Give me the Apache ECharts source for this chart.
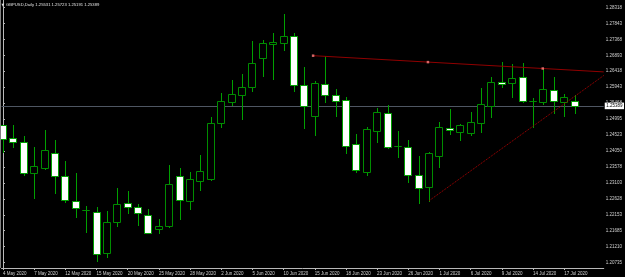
<!DOCTYPE html>
<html><head><meta charset="utf-8">
<script src="https://cdn.jsdelivr.net/npm/echarts@6/dist/echarts.min.js"></script>
<style>html,body{margin:0;padding:0;background:#000;}#c{width:625px;height:277px;}</style>
</head><body><div id="c"></div>
<script>
const dates = ['4 May 2020','5 May 2020','6 May 2020','7 May 2020','8 May 2020','11 May 2020','12 May 2020','13 May 2020','14 May 2020','15 May 2020',
'18 May 2020','19 May 2020','20 May 2020','21 May 2020','22 May 2020','25 May 2020','26 May 2020','27 May 2020','28 May 2020','29 May 2020',
'1 Jun 2020','2 Jun 2020','3 Jun 2020','4 Jun 2020','5 Jun 2020','8 Jun 2020','9 Jun 2020','10 Jun 2020','11 Jun 2020','12 Jun 2020',
'15 Jun 2020','16 Jun 2020','17 Jun 2020','18 Jun 2020','19 Jun 2020','22 Jun 2020','23 Jun 2020','24 Jun 2020','25 Jun 2020','26 Jun 2020',
'29 Jun 2020','30 Jun 2020','1 Jul 2020','2 Jul 2020','3 Jul 2020','6 Jul 2020','7 Jul 2020','8 Jul 2020','9 Jul 2020','10 Jul 2020',
'13 Jul 2020','14 Jul 2020','15 Jul 2020','16 Jul 2020','17 Jul 2020','20 Jul 2020'];
const opens = [1.24821,1.24435,1.24325,1.23403,1.23534,1.23998,1.23305,1.22562,1.22286,1.22235,
1.21017,1.21929,1.22494,1.22375,1.22146,1.21721,1.21828,1.23314,1.22571,1.23166,
1.23225,1.24889,1.25496,1.25722,1.25959,1.26803,1.27219,1.27267,1.27466,1.26001,
1.25097,1.26040,1.25713,1.25555,1.24247,1.23433,1.24652,1.25187,1.24188,1.24167,
1.23335,1.22969,1.23909,1.24732,1.24622,1.24592,1.24889,1.25395,1.26099,1.26060,
1.26257,1.25534,1.25514,1.25861,1.25514,1.25531];
const highs = [1.24830,1.24821,1.24494,1.24167,1.24672,1.24375,1.23760,1.23386,1.22414,1.22375,
1.22265,1.22940,1.22860,1.22473,1.22325,1.22027,1.23623,1.23534,1.23433,1.23929,
1.25059,1.25763,1.26158,1.26337,1.27318,1.27347,1.27546,1.28120,1.27546,1.26536,
1.26129,1.26872,1.25882,1.25662,1.24554,1.24753,1.25317,1.25415,1.24643,1.24375,
1.23900,1.24028,1.24910,1.25288,1.24851,1.25198,1.25930,1.26239,1.26684,1.26634,
1.26655,1.25615,1.26506,1.26239,1.25742,1.25723];
const lows = [1.24028,1.24176,1.23335,1.22643,1.23504,1.22809,1.22542,1.22078,1.21632,1.20779,
1.20898,1.21828,1.22197,1.21849,1.21602,1.21620,1.21781,1.22027,1.22316,1.22889,
1.23200,1.24771,1.25415,1.24999,1.25823,1.26277,1.26179,1.27050,1.25840,1.24723,
1.24524,1.25514,1.25089,1.23998,1.23433,1.23335,1.24325,1.24129,1.23879,1.23136,
1.22494,1.22571,1.23582,1.24554,1.24375,1.24524,1.24622,1.25068,1.25959,1.25662,
1.25496,1.24771,1.25445,1.25187,1.25097,1.25191];
const closes = [1.24405,1.24325,1.23403,1.23611,1.24078,1.23314,1.22592,1.22345,1.22304,1.20987,
1.21929,1.22464,1.22375,1.22215,1.21620,1.21828,1.23068,1.22583,1.23216,1.23445,
1.24872,1.25525,1.25742,1.25959,1.26655,1.27249,1.27279,1.27466,1.26001,1.25395,
1.26060,1.25713,1.25543,1.24197,1.23493,1.24693,1.25207,1.24176,1.24190,1.23344,
1.22958,1.23998,1.24753,1.24664,1.24830,1.24910,1.25436,1.26090,1.26048,1.26218,
1.25534,1.25540,1.25882,1.25534,1.25662,1.25389];
const dateTickIndex = [0,3,6,9,12,15,18,21,24,27,30,33,36,39,42,45,48,51,54];
const priceTicks = [1.28318,1.27843,1.27368,1.26893,1.26418,1.25943,1.25468,1.24995,1.24523,1.24050,1.23578,1.23103,1.22628,1.22153,1.21685,1.21210,1.20735];
const lastPrice = 1.25389;
const headerText = 'GBPUSD,Daily 1.25531 1.25723 1.25191 1.25389';
const resistanceLine = [[29.84,1.26881],[57.806,1.26399]];
const resistanceHandles = [[29.84,1.26881],[40.89,1.26690],[51.94,1.26500]];
const supportLine = [[41,1.22571],[57.806,1.26292]];

const GREEN = '#00a000';
const ohlc = dates.map((d,i)=>[i, opens[i], closes[i], lows[i], highs[i]]);

const chart = echarts.init(document.getElementById('c'), null, {renderer:'canvas'});
chart.setOption({
  backgroundColor:'#000000',
  animation:false,
  grid:{left:0, right:20, top:0, bottom:9, containLabel:false},
  xAxis:{type:'value', min:-0.144, max:57.806,
    splitLine:{show:false},
    axisLine:{show:true, onZero:false, lineStyle:{color:'#b8b8b8', width:1}},
    axisTick:{show:true, customValues:dateTickIndex, length:2, lineStyle:{color:'#b8b8b8'}},
    axisLabel:{customValues:dateTickIndex, formatter:v=>dates[Math.round(v)], align:'left',
      color:'#d0d0d0', fontSize:4.5, fontFamily:'Liberation Sans', margin:3, hideOverlap:false}
  },
  yAxis:{type:'value', position:'right', min:1.20571, max:1.28536, scale:true,
    splitLine:{show:false},
    axisLine:{show:true, lineStyle:{color:'#b8b8b8', width:1}},
    axisTick:{show:true, customValues:priceTicks, length:2, lineStyle:{color:'#b8b8b8'}},
    axisLabel:{customValues:priceTicks, formatter:v=>v.toFixed(5), align:'left',
      color:'#d0d0d0', fontSize:4.5, fontFamily:'Liberation Sans', margin:2, hideOverlap:false}
  },
  graphic:[
    {type:'line', shape:{x1:0.5,y1:0,x2:0.5,y2:268}, style:{stroke:'#808080', lineWidth:1}, z:10},
    {type:'text', left:1.5, top:3, style:{text:'▼', fill:'#e0e0e0', fontSize:3.5, fontFamily:'DejaVu Sans'}, z:10},
    {type:'text', left:6, top:2.5, style:{text:headerText, fill:'#e0e0e0', fontSize:4.2, fontFamily:'Liberation Sans'}, z:10}
  ],
  series:[
    {type:'custom', data:ohlc, clip:true, z:3,
      renderItem:function(params, api){
        const i=api.value(0), o=api.value(1), c=api.value(2), l=api.value(3), h=api.value(4);
        const pO=api.coord([i,o]), pC=api.coord([i,c]), pL=api.coord([i,l]), pH=api.coord([i,h]);
        const cx=Math.round(pO[0])+0.5;
        const top=Math.round(Math.min(pO[1],pC[1]))+0.5;
        const bot=Math.round(Math.max(pO[1],pC[1]))+0.5;
        const bull = c>=o;
        return {type:'group', children:[
          {type:'line', shape:{x1:cx, y1:Math.round(pH[1]), x2:cx, y2:Math.round(pL[1])+1}, style:{stroke:GREEN, lineWidth:1}},
          {type:'rect', shape:{x:cx-4, y:top, width:7, height:Math.max(0,bot-top)},
            style:{fill: bull?'#000000':'#ffffff', stroke: bull?'#008c00':GREEN, lineWidth:1}}
        ]};
      }
    },
    {type:'line', data:resistanceLine, symbol:'none', z:4, silent:true,
      lineStyle:{color:'#900000', width:1}},
    {type:'scatter', data:resistanceHandles, symbol:'rect', symbolSize:2.5, z:5, silent:true,
      itemStyle:{color:'#ff8080'}},
    {type:'line', data:supportLine, symbol:'none', z:4, silent:true,
      lineStyle:{color:'#b00000', width:1, type:[1,1]},
      markLine:{silent:true, symbol:'none', z:2, precision:5,
        lineStyle:{color:'#4e5662', width:1, type:'solid'},
        label:{show:true, position:'end', formatter:lastPrice.toFixed(5), distance:1,
          backgroundColor:'#ffffff', color:'#000000', fontSize:4.5, fontFamily:'Liberation Sans', padding:[0.8,1.5]},
        data:[{yAxis:lastPrice}]}
    }
  ]
});
</script></body></html>
